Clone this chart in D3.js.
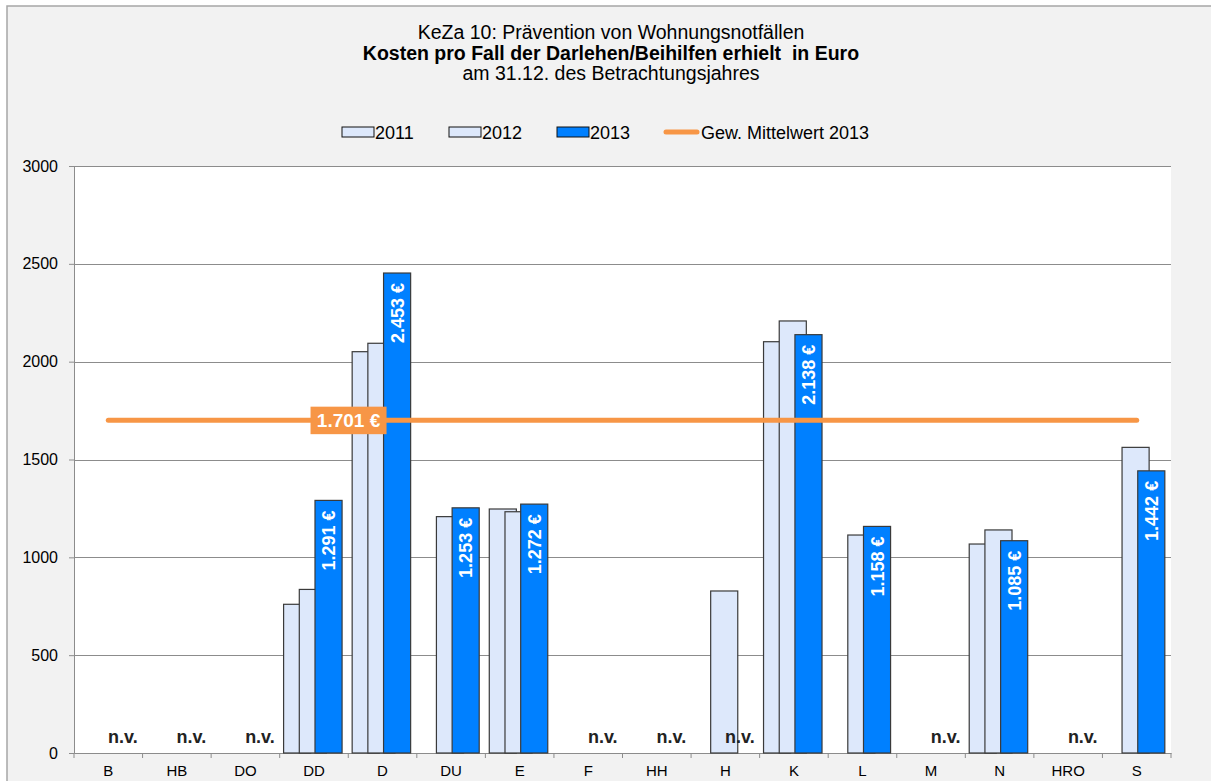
<!DOCTYPE html>
<html>
<head>
<meta charset="utf-8">
<script src="https://cdn.jsdelivr.net/npm/d3@7"></script>
<style>
  html, body { margin: 0; padding: 0; background: #fff; }
  svg { display: block; font-family: Arial, "Liberation Sans", sans-serif; }
</style>
</head>
<body>
<svg id="chart" width="1211" height="781"></svg>
<script>
// KeZa 10 – Kosten pro Fall (Darlehen/Beihilfen)
const categories = ['B', 'HB', 'DO', 'DD', 'D', 'DU', 'E', 'F', 'HH', 'H', 'K', 'L', 'M', 'N', 'HRO', 'S'];
const values2011 = [null, null, null, 760, 2051, null, 1247, null, null, null, 2102, null, null, 1068, null, null];
const values2012 = [null, null, null, 836, 2094, 1208, 1233, null, null, 828, 2208, 1114, null, 1140, null, 1562];
const values2013 = [null, null, null, 1291, 2453, 1253, 1272, null, null, null, 2138, 1158, null, 1085, null, 1442];
const mean2013 = 1701;
const meanLabelAt = 'D';
const yTicks = [0, 500, 1000, 1500, 2000, 2500, 3000];
const titleLines = [
  { text: 'KeZa 10: Prävention von Wohnungsnotfällen', bold: false },
  { text: 'Kosten pro Fall der Darlehen/Beihilfen erhielt  in Euro', bold: true },
  { text: 'am 31.12. des Betrachtungsjahres', bold: false },
];
const seriesNames = ['2011', '2012', '2013'];
const meanName = 'Gew. Mittelwert 2013';

(function () {
  const svg = d3.select('#chart');

  const LIGHT = '#dde8fb';
  const BLUE = '#0080ff';
  const ORANGE = '#f79646';
  const EDGE = '#3a3a3a';
  const GRID = '#8c8c8c';

  const plot = { left: 74, right: 1171, top: 166, bottom: 753 };

  const fmt = v => d3.format(',')(v).replace(/,/g, '.') + ' €';

  // chart area background + border
  svg.append('rect')
    .attr('x', 7).attr('y', 6).attr('width', 1220).attr('height', 800)
    .attr('fill', '#f2f2f2').attr('stroke', '#a6a6a6').attr('stroke-width', 1.5);

  // titles
  svg.append('g').selectAll('text').data(titleLines).join('text')
    .attr('x', 611).attr('y', (d, i) => 39 + i * 20.5)
    .attr('text-anchor', 'middle')
    .attr('font-size', 19.5)
    .attr('font-weight', d => d.bold ? 'bold' : 'normal')
    .attr('fill', '#000')
    .style('white-space', 'pre')
    .text(d => d.text);

  // legend
  const legend = svg.append('g').attr('font-size', 18);
  const legendX = [342, 449, 557];
  seriesNames.forEach((name, i) => {
    legend.append('rect')
      .attr('x', legendX[i]).attr('y', 127).attr('width', 32).attr('height', 10)
      .attr('fill', i === 2 ? BLUE : LIGHT).attr('stroke', '#111').attr('stroke-width', 1);
    legend.append('text')
      .attr('x', legendX[i] + 33).attr('y', 138.5).text(name);
  });
  legend.append('line')
    .attr('x1', 666).attr('x2', 697).attr('y1', 132).attr('y2', 132)
    .attr('stroke', ORANGE).attr('stroke-width', 5).attr('stroke-linecap', 'round');
  legend.append('text').attr('x', 701).attr('y', 138.5).text(meanName);

  // scales
  const x = d3.scaleBand().domain(categories).range([plot.left, plot.right]).padding(0);
  const y = d3.scaleLinear().domain([0, 3000]).range([plot.bottom, plot.top]);
  const bw = x.bandwidth();
  const barW = bw * 0.395;
  const step = bw * 0.229;
  const barX = (c, s) => x(c) + bw * 0.057 + s * step;

  // plot area
  svg.append('rect')
    .attr('x', plot.left).attr('y', plot.top)
    .attr('width', plot.right - plot.left).attr('height', plot.bottom - plot.top)
    .attr('fill', '#fff');

  // y axis + grid
  const yAxis = svg.append('g')
    .attr('transform', `translate(${plot.left},0)`)
    .call(d3.axisLeft(y).tickValues(yTicks).tickSize(5).tickPadding(11).tickFormat(d3.format('d')));
  yAxis.select('.domain').attr('stroke', GRID);
  yAxis.selectAll('.tick line').attr('stroke', GRID);
  yAxis.selectAll('.tick text')
    .attr('font-size', 16).attr('font-family', 'Arial, "Liberation Sans", sans-serif').attr('fill', '#000');

  svg.append('g').selectAll('line').data(yTicks.filter(t => t > 0)).join('line')
    .attr('x1', plot.left).attr('x2', plot.right)
    .attr('y1', d => Math.round(y(d)) + 0.5).attr('y2', d => Math.round(y(d)) + 0.5)
    .attr('stroke', GRID).attr('stroke-width', 1);

  // x axis
  const xAxis = svg.append('g')
    .attr('transform', `translate(0,${plot.bottom})`)
    .call(d3.axisBottom(x).tickSize(0).tickPadding(12));
  xAxis.select('.domain').attr('stroke', GRID);
  xAxis.selectAll('.tick text')
    .attr('font-size', 15).attr('font-family', 'Arial, "Liberation Sans", sans-serif').attr('fill', '#000');
  svg.append('g').selectAll('line').data(d3.range(categories.length + 1)).join('line')
    .attr('x1', i => plot.left + i * bw).attr('x2', i => plot.left + i * bw)
    .attr('y1', plot.bottom).attr('y2', plot.bottom + 5)
    .attr('stroke', GRID);

  // bars
  const series = [values2011, values2012, values2013];
  series.forEach((vals, s) => {
    const rows = categories.map((c, i) => ({ c, v: vals[i] })).filter(d => d.v != null);
    svg.append('g').selectAll('rect').data(rows).join('rect')
      .attr('x', d => barX(d.c, s)).attr('width', barW)
      .attr('y', d => y(d.v)).attr('height', d => y(0) - y(d.v))
      .attr('fill', s === 2 ? BLUE : LIGHT)
      .attr('stroke', EDGE).attr('stroke-width', 1.2);
  });

  // 2013 labels
  const rows13 = categories.map((c, i) => ({ c, v: values2013[i] }));
  svg.append('g').selectAll('text').data(rows13.filter(d => d.v != null)).join('text')
    .attr('transform', d => `translate(${barX(d.c, 2) + barW / 2},${y(d.v) + 10}) rotate(-90)`)
    .attr('text-anchor', 'end').attr('dy', '0.36em')
    .attr('font-size', 18).attr('font-weight', 'bold').attr('fill', '#fff')
    .text(d => fmt(d.v));
  svg.append('g').selectAll('text').data(rows13.filter(d => d.v == null)).join('text')
    .attr('x', d => barX(d.c, 2) + barW / 2).attr('y', y(0) - 10)
    .attr('text-anchor', 'middle')
    .attr('font-size', 18).attr('font-weight', 'bold').attr('fill', '#222')
    .text('n.v.');

  // weighted mean line
  const cx = c => x(c) + bw / 2;
  svg.append('line')
    .attr('x1', cx(categories[0])).attr('x2', cx(categories[categories.length - 1]))
    .attr('y1', y(mean2013)).attr('y2', y(mean2013))
    .attr('stroke', ORANGE).attr('stroke-width', 5).attr('stroke-linecap', 'round');

  const lblRight = cx(meanLabelAt) + 4;
  svg.append('rect')
    .attr('x', lblRight - 76).attr('y', y(mean2013) - 13.5)
    .attr('width', 76).attr('height', 27.5)
    .attr('fill', ORANGE);
  svg.append('text')
    .attr('x', lblRight - 38).attr('y', y(mean2013)).attr('dy', '0.36em')
    .attr('text-anchor', 'middle')
    .attr('font-size', 19).attr('font-weight', 'bold').attr('fill', '#fff')
    .text(fmt(mean2013));
})();
</script>
</body>
</html>
